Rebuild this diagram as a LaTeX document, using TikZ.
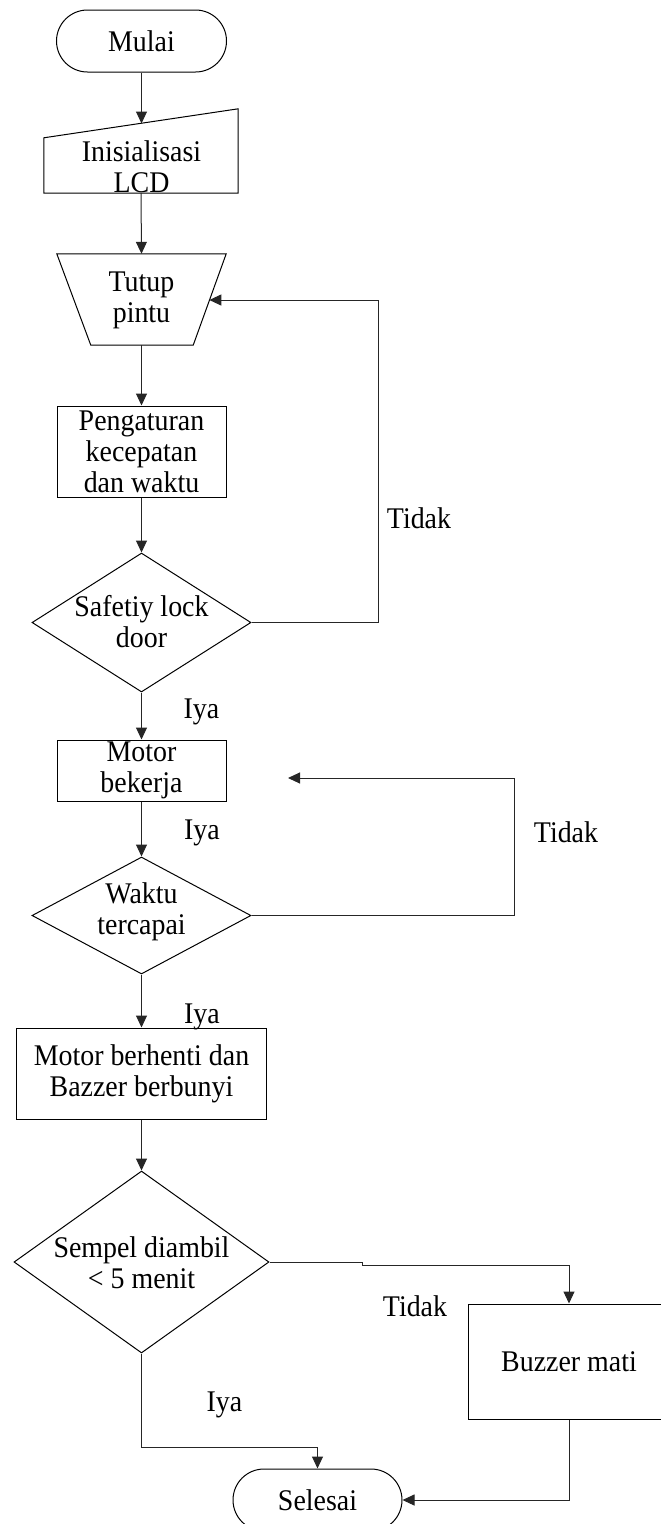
\documentclass[tikz,border=0pt]{standalone}
\usepackage{fontspec}
\setmainfont{Liberation Serif}[FakeStretch=0.93]
\usetikzlibrary{shapes.geometric,arrows.meta,calc}
\begin{document}
\begin{tikzpicture}[x=1pt,y=-1pt,
  every node/.style={font=\fontsize{30}{31}\selectfont},
  shp/.style={draw=black, line width=1pt, inner sep=0pt, align=center},
  box/.style={shp, rectangle},
  dia/.style={shp, diamond},
  term/.style={shp, rectangle, rounded corners=31pt, minimum height=62pt},
  ghost/.style={rectangle, inner sep=0pt},
  txt/.style={align=center, inner sep=0pt},
  lbl/.style={inner sep=0pt},
  wire/.style={draw=black!85, line width=1pt},
  conn/.style={wire, -{Triangle[length=12pt,width=11pt]}}
]
\path[use as bounding box] (0,0) rectangle (661,1524);
\clip (0,0) rectangle (661,1524);

% nodes
\node[term, minimum width=170pt] (start) at (141.5,41) {Mulai};

\node[ghost, minimum width=194pt, minimum height=84pt] (init) at (141,151) {};
\draw[shp] (init.south west) -- (init.south east) -- (init.north east) -- ($(init.north west)+(0,29)$) -- cycle;
\node[txt] (initT) at (141.5,167) {Inisialisasi\\LCD};
\coordinate (initTop) at (141.5,123.5);

\node[ghost, minimum width=169pt, minimum height=91pt] (tutup) at (141.5,299.5) {};
\draw[shp] (tutup.north west) -- (tutup.north east) -- ($(tutup.south east)+(-33,0)$) -- ($(tutup.south west)+(34,0)$) -- cycle;
\node[txt] (tutupT) at (141.5,300) {Tutup\\pintu};
\coordinate (tutupR) at (209.3,300);

\node[box, minimum width=169pt, minimum height=91pt] (peng) at (141.5,451.5) {Pengaturan\\kecepatan\\dan waktu};

\node[dia, minimum width=219pt, minimum height=139pt] (safe) at (141.5,622.5) {};
\node[txt] (safeT) at (141.5,622) {Safetiy lock\\door};

\node[box, minimum width=169pt, minimum height=61pt] (motor) at (141.5,770.5) {Motor\\bekerja};
\coordinate (motorR) at (288,778);

\node[dia, minimum width=219pt, minimum height=117pt] (waktu) at (141.5,915.5) {};
\node[txt] (waktuT) at (141.5,912) {Waktu\\tercapai};

\node[box, minimum width=250pt, minimum height=91pt] (stop) at (141.5,1073.5) {Motor berhenti dan\\Bazzer berbunyi};

\node[dia, minimum width=255pt, minimum height=182pt] (sempel) at (141.5,1262) {};
\node[txt] (sempelT) at (141.5,1262.5) {Sempel diambil\\< 5 menit};

\node[box, minimum width=202pt, minimum height=115pt] (buzz) at (569,1361.5) {Buzzer mati};
\node[term, minimum width=169pt] (end) at (317.5,1500) {Selesai};

% labels
\node[lbl] (iya1) at (201.5,712) {Iya};
\node[lbl] (tidak1) at (419,518) {Tidak};
\node[lbl] (iya2) at (202,833) {Iya};
\node[lbl] (tidak2) at (566,832) {Tidak};
\node[lbl] (iya3) at (202,1017) {Iya};
\node[lbl] (tidak3) at (415,1306) {Tidak};
\node[lbl] (iya4) at (224.5,1405) {Iya};

% connectors
\draw[conn] (start.south) -- (initTop);
\draw[conn] (init.south) -- (tutup.north);
\draw[conn] (tutup.south) -- (peng.north);
\draw[conn] (peng.south) -- (safe.north);
\draw[conn] (safe.south) -- (motor.north);
\draw[conn] (safe.east) -- ++(127,0) |- (tutupR);
\draw[conn] (motor.south) -- (waktu.north);
\draw[conn] (waktu.east) -- ++(263,0) |- (motorR);
\draw[conn] (waktu.south) -- (stop.north);
\draw[conn] (stop.south) -- (sempel.north);
\draw[conn] (sempel.east) -- ++(93,0) -- ++(0,3) -| (buzz.north);
\draw[conn] (sempel.south) -- ++(0,94) -| (end.north);
\draw[conn] (buzz.south) |- (end.east);
\end{tikzpicture}
\end{document}
